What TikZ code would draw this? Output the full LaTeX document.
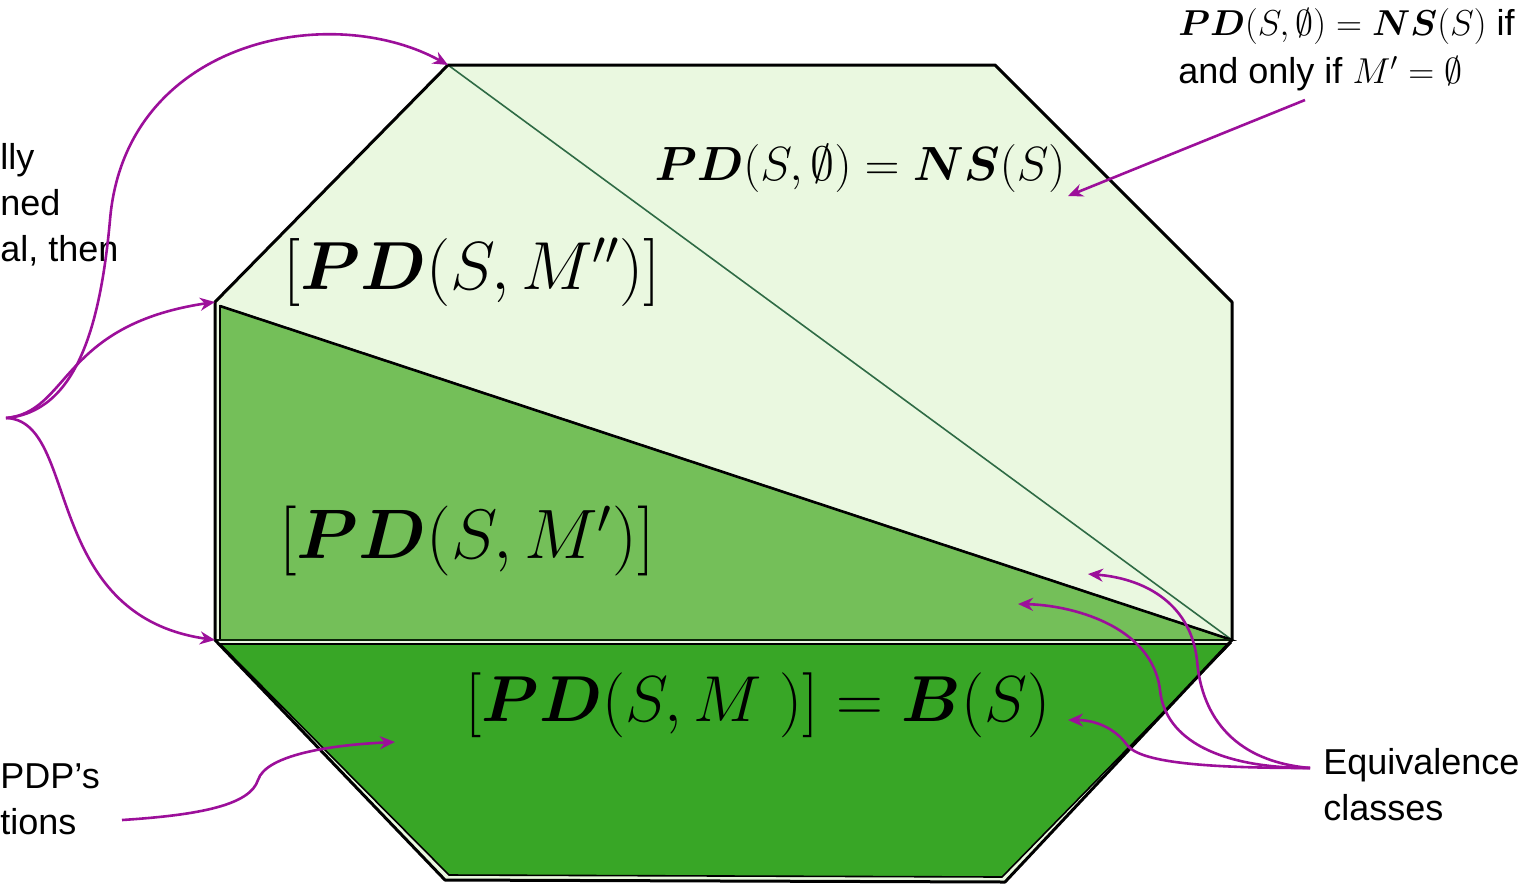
\documentclass[tikz,border=0pt]{standalone}
\usepackage{fix-cm}
\usepackage{amsmath,amssymb,bm}
\usepackage[no-math]{fontspec}
\setmainfont{Liberation Sans}
\usetikzlibrary{arrows.meta}

\definecolor{palegreen}{HTML}{EAF8E0}
\definecolor{midgreen}{HTML}{74BF59}
\definecolor{deepgreen}{HTML}{38A626}
\definecolor{linkpurple}{HTML}{9C0F9A}
\definecolor{diaggreen}{HTML}{2F6B45}

\tikzset{
  pointer/.style={draw=linkpurple, line width=1.3pt, -{Stealth[length=7.5pt,width=6.5pt]}},
  bigmath/.style={inner sep=0pt, font=\fontsize{35}{40}\selectfont},
  note/.style={inner sep=0pt, align=left, font=\fontsize{18}{23}\selectfont},
}

\begin{document}
\begin{tikzpicture}[x=0.5pt,y=-0.5pt]
    \useasboundingbox (0,0) rectangle (1531,890);
    % octagon corners
    \coordinate (tl) at (448,65);
    \coordinate (tr) at (995,65);
    \coordinate (ru) at (1232,302);
    \coordinate (rl) at (1232,640);
    \coordinate (br) at (1005,882);
    \coordinate (bl) at (445,880);
    \coordinate (ll) at (215,640);
    \coordinate (lu) at (215,302);
    \fill[palegreen] (tl) -- (tr) -- (ru) -- (rl) -- (br) -- (bl) -- (ll) -- (lu) -- cycle;
    \fill[midgreen, draw=black, line width=0.8pt] (220,306) -- (rl) -- (220,640) -- cycle;
    \fill[deepgreen, draw=black, line width=0.8pt] (220,644) -- (1230,644) -- (1002,877) -- (449,875) -- cycle;
    \draw[diaggreen, line width=0.8pt] (tl) -- (rl);
    \draw[line width=1.3pt] (220,306) -- (rl);
    \draw[black!80!deepgreen, line width=1.1pt] (ll) -- (rl);
    \draw[line width=1.5pt, line join=round] (tl) -- (tr) -- (ru) -- (rl) -- (br) -- (bl) -- (ll) -- (lu) -- cycle;

    % class labels
    \node[bigmath, font=\fontsize{34}{40}\selectfont] (mpp) at (472,272) {$[\bm{PD}(S,M'')]$};
    \node[bigmath] (mp) at (467,541) {$[\bm{PD}(S,M')]$};
    \node[bigmath, font=\fontsize{32.5}{40}\selectfont] (mfull) at (758,705) {$[\bm{PD}(S,M\;)]=\bm{B}(S)$};
    \node[inner sep=0pt, font=\fontsize{24}{30}\selectfont] (mnone) at (860,168) {$\bm{PD}(S,\emptyset)=\bm{NS}(S)$};

    % side notes
    \node[note, anchor=north west, font=\fontsize{18}{24}\selectfont] (topnote) at (1178,8) {$\bm{PD}(S,\emptyset)=\bm{NS}(S)$ if\\and only if $M'=\emptyset$};
    \node[note, anchor=north west] (eqnote) at (1323,748) {Equivalence\\classes};
    \node[note, anchor=north west] (leftnote) at (0,143) {lly\\ned\\al, then};
    \node[note, anchor=north west] (pdpnote) at (0,763) {PDP’s\\tions};

    % connectors
    \coordinate (brace) at (6,418);
    \coordinate (pdptail) at (122,820);
    \coordinate (toptail) at (1305,100);
    \coordinate (eqtail) at (1310,768);
    \draw[pointer] (brace) .. controls (75,412) and (100,330) .. (110,220)
        .. controls (125,40) and (330,0) .. (tl);
    \draw[pointer] (brace) .. controls (70,412) and (60,325) .. (lu);
    \draw[pointer] (brace) .. controls (80,420) and (40,615) .. (ll);
    \draw[pointer] (pdptail) .. controls (200,815) and (250,805) .. (258,780)
        .. controls (266,755) and (330,745) .. (395,742);
    \draw[pointer] (toptail) -- (1068,196);
    \draw[pointer] (eqtail) .. controls (1220,760) and (1200,700) .. (1197,660)
        .. controls (1190,600) and (1140,578) .. (1088,574);
    \draw[pointer] (eqtail) .. controls (1220,768) and (1165,740) .. (1160,690)
        .. controls (1152,625) and (1070,605) .. (1018,604);
    \draw[pointer] (eqtail) .. controls (1200,768) and (1140,762) .. (1127,745)
        .. controls (1115,728) and (1095,720) .. (1068,720);
\end{tikzpicture}
\end{document}
